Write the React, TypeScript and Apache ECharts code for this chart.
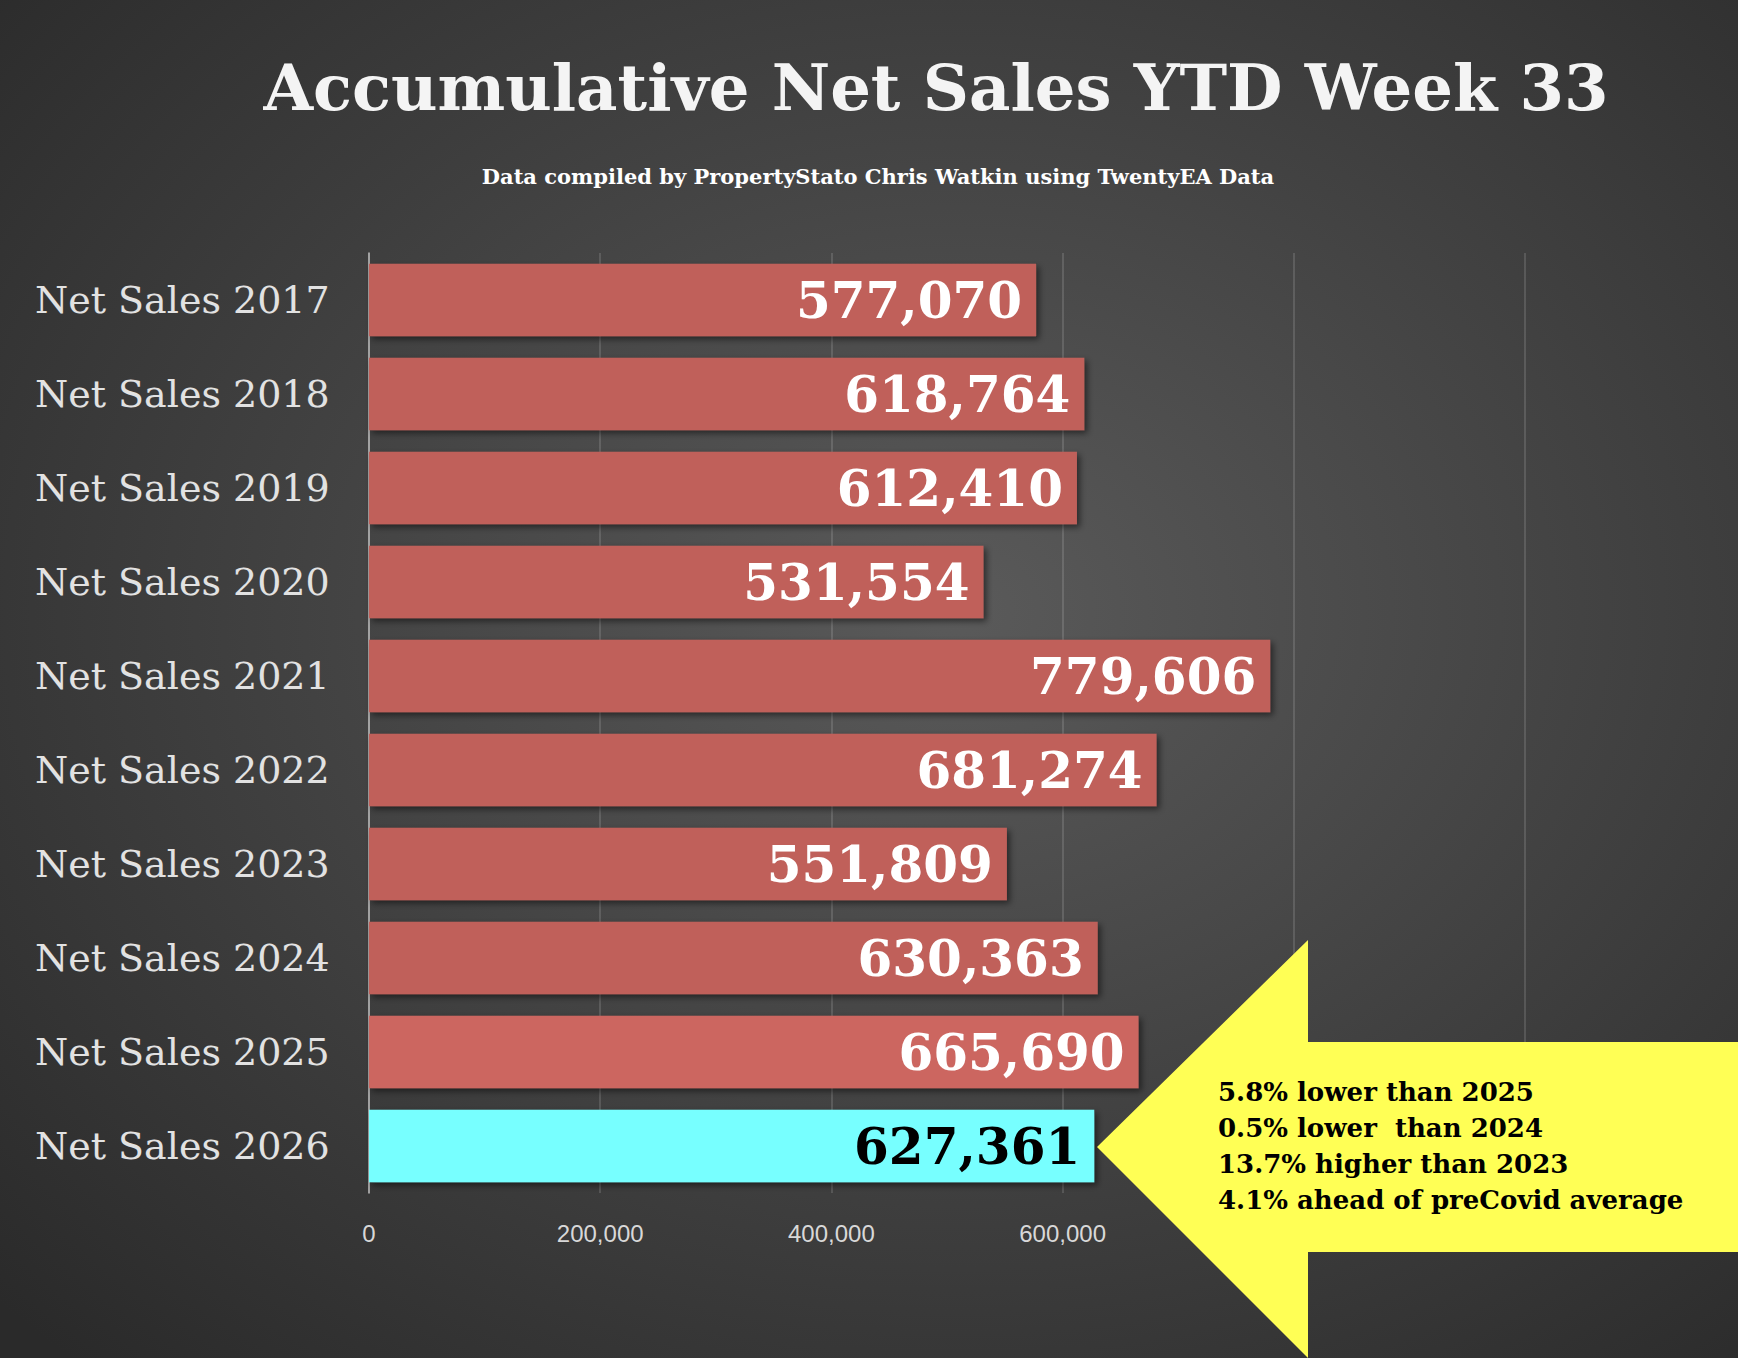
import { useEffect, useRef } from 'react'
import * as echarts from 'echarts'

const categories = ['Net Sales 2017', 'Net Sales 2018', 'Net Sales 2019', 'Net Sales 2020', 'Net Sales 2021', 'Net Sales 2022', 'Net Sales 2023', 'Net Sales 2024', 'Net Sales 2025', 'Net Sales 2026']
const values = [577070, 618764, 612410, 531554, 779606, 681274, 551809, 630363, 665690, 627361]
const barColors = ['#c0605a', '#c0605a', '#c0605a', '#c0605a', '#c0605a', '#c0605a', '#c0605a', '#c0605a', '#cc6660', '#77ffff']
const labelColors = ['#fff', '#fff', '#fff', '#fff', '#fff', '#fff', '#fff', '#fff', '#fff', '#000']
const notes = ['5.8% lower than 2025', '0.5% lower  than 2024', '13.7% higher than 2023', '4.1% ahead of preCovid average']

const SERIF = '"DejaVu Serif", "Liberation Serif", serif'

export default function App() {
  const ref = useRef<HTMLDivElement | null>(null)

  useEffect(() => {
    if (!ref.current) return
    const chart = echarts.init(ref.current, null, { renderer: 'svg' })
    chart.setOption({
      animation: false,
      backgroundColor: {
        type: 'radial', x: 0.55, y: 0.45, r: 0.75,
        colorStops: [{ offset: 0, color: '#5a5a5a' }, { offset: 1, color: '#2a2a2a' }]
      },
      title: [
        {
          text: 'Accumulative Net Sales YTD Week 33', left: 931, top: 50, textAlign: 'center',
          textStyle: { color: '#f4f4f4', fontSize: 64, fontWeight: 'bold', fontFamily: SERIF }
        },
        {
          text: 'Data compiled by PropertyStato Chris Watkin using TwentyEA Data', left: 873, top: 161, textAlign: 'center',
          textStyle: { color: '#ffffff', fontSize: 21, fontWeight: 'bold', fontFamily: SERIF }
        }
      ],
      grid: { left: 369, right: 213, top: 253, height: 940 },
      xAxis: {
        type: 'value', min: 0, max: 1000000, interval: 200000,
        axisLine: { show: false }, axisTick: { show: false },
        splitLine: { lineStyle: { color: 'rgba(255,255,255,0.18)', width: 1.5 } },
        axisLabel: {
          color: '#d8d8d8', fontSize: 24, fontFamily: '"Liberation Sans", Arial, sans-serif', margin: 28,
          formatter: (v: number) => v.toLocaleString('en-US')
        }
      },
      yAxis: {
        type: 'category', data: categories, inverse: true,
        axisLine: { lineStyle: { color: '#bbbbbb', width: 1.5 } }, axisTick: { show: false },
        axisLabel: { color: '#e2e2e2', fontSize: 38, fontFamily: SERIF, margin: 334, align: 'left' }
      },
      series: [{
        type: 'bar', barCategoryGap: '23%',
        data: values.map((v, i) => ({
          value: v,
          itemStyle: { color: barColors[i] },
          label: { color: labelColors[i] }
        })),
        itemStyle: { shadowColor: 'rgba(0,0,0,0.5)', shadowBlur: 6, shadowOffsetX: 3, shadowOffsetY: 3 },
        label: {
          show: true, position: 'insideRight', distance: 14,
          fontSize: 50, fontWeight: 'bold', fontFamily: SERIF,
          formatter: (p: { value: number }) => p.value.toLocaleString('en-US')
        }
      }],
      graphic: [
        {
          type: 'polygon', z: 100,
          shape: { points: [[1097, 1147], [1308, 940], [1308, 1042], [1738, 1042], [1738, 1252], [1308, 1252], [1308, 1358]] },
          style: { fill: '#ffff55' }
        },
        ...notes.map((t, i) => ({
          type: 'text', z: 101, left: 1218, top: 1079 + i * 36,
          style: { text: t, fill: '#000', fontSize: 26, fontWeight: 'bold', fontFamily: SERIF }
        }))
      ]
    })
    return () => chart.dispose()
  }, [])

  return <div ref={ref} style={{ width: 1738, height: 1358, position: 'absolute', left: 0, top: 0 }} />
}
